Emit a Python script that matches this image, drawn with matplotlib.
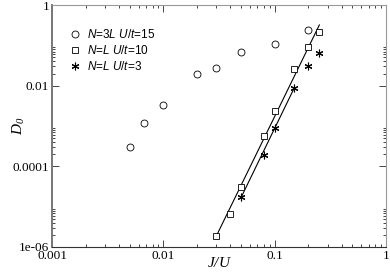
import matplotlib
matplotlib.use('Agg')
import matplotlib.pyplot as plt
import numpy as np

# data (log-log)
x_n3l_u15 = [0.005, 0.00667, 0.01, 0.02, 0.03, 0.05, 0.1, 0.2]
y_n3l_u15 = [3.0e-4, 1.2e-3, 3.3e-3, 0.019, 0.027, 0.068, 0.107, 0.24]

x_nl_u10 = [0.03, 0.04, 0.05, 0.08, 0.1, 0.15, 0.2, 0.25]
y_nl_u10 = [1.9e-6, 6.5e-6, 3.15e-5, 5.6e-4, 2.3e-3, 0.026, 0.093, 0.21]

x_nl_u3 = [0.05, 0.08, 0.1, 0.15, 0.2, 0.25]
y_nl_u3 = [1.7e-5, 1.9e-4, 8.7e-4, 8.8e-3, 0.030, 0.064]

# power-law fit lines (end points)
fit10_x = [0.03, 0.252]
fit10_y = [1.9e-6, 0.32]
fit3_x = [0.05, 0.15]
fit3_y = [1.7e-5, 8.8e-3]

labels = [r'$N$=3$L$ $U$/$t$=15', r'$N$=$L$ $U$/$t$=10', r'$N$=$L$ $U$/$t$=3']

plt.rcParams['mathtext.fontset'] = 'custom'
plt.rcParams['mathtext.it'] = 'Liberation Sans:italic'
plt.rcParams['mathtext.rm'] = 'Liberation Sans'
# bf slot used for the serif italic axis labels
plt.rcParams['mathtext.bf'] = 'Liberation Serif:italic'

fig = plt.figure(figsize=(3.9, 2.76), dpi=100)
ax = fig.add_axes([52/390, 1-247/276, 334/390, 242/276])

ax.plot(fit10_x, fit10_y, color='black', lw=0.8)
ax.plot(fit3_x, fit3_y, color='black', lw=0.8)
ax.plot(x_n3l_u15, y_n3l_u15, 'o', ls='none', mfc='white', mec='black', mew=0.6, ms=5, label=labels[0])
ax.plot(x_nl_u10, y_nl_u10, 's', ls='none', mfc='white', mec='black', mew=0.6, ms=4.5, label=labels[1])
ax.plot(x_nl_u3, y_nl_u3, marker=(6, 2, 0), ls='none', color='black', mew=0.8, ms=5.5, label=labels[2])

ax.set_xscale('log')
ax.set_yscale('log')
ax.set_xlim(0.001, 1)
ax.set_ylim(1e-6, 1)

ax.set_xticks([0.001, 0.01, 0.1, 1])
ax.set_xticklabels(['0.001', '0.01', '0.1', '1'])
xminor = [k * 10.0**e for e in (-3, -2, -1) for k in range(2, 10)]
ax.set_xticks(xminor, minor=True)
ax.set_yticks([1e-6, 1e-4, 1e-2, 1])
ax.set_yticklabels(['1e-06', '0.0001', '0.01', '1'])
yminor = [k * 10.0**e for e in (-6, -4, -2) for k in range(2, 10)]
ax.set_yticks(yminor, minor=True)

ax.tick_params(which='both', direction='in', top=True, right=True, width=0.7, color='#444')
ax.tick_params(which='major', length=5, pad=2)
ax.tick_params(which='minor', length=2.5)
for lab in ax.get_xticklabels() + ax.get_yticklabels():
    lab.set_family('Liberation Serif')
    lab.set_fontsize(9.5)

ax.spines['left'].set_color('#777')
ax.spines['left'].set_linewidth(1.4)
ax.spines['bottom'].set_color('#333')
ax.spines['top'].set_color('#999')
ax.spines['right'].set_color('#999')

ax.set_xlabel(r'$\mathbf{J/U}$', fontsize=11, va='center')
ax.xaxis.set_label_coords(0.5, -0.065)
ax.set_ylabel(r'$\mathbf{D_0}$', fontsize=11, va='center')
ax.yaxis.set_label_coords(-0.1, 0.5)

leg = ax.legend(loc='upper left', bbox_to_anchor=(0.035, 0.93), frameon=False,
                handlelength=1.0, handletextpad=0.5, labelspacing=0.25, borderpad=0,
                prop={'family': 'Liberation Sans', 'size': 8.5})

fig.savefig('out.png', dpi=100)
